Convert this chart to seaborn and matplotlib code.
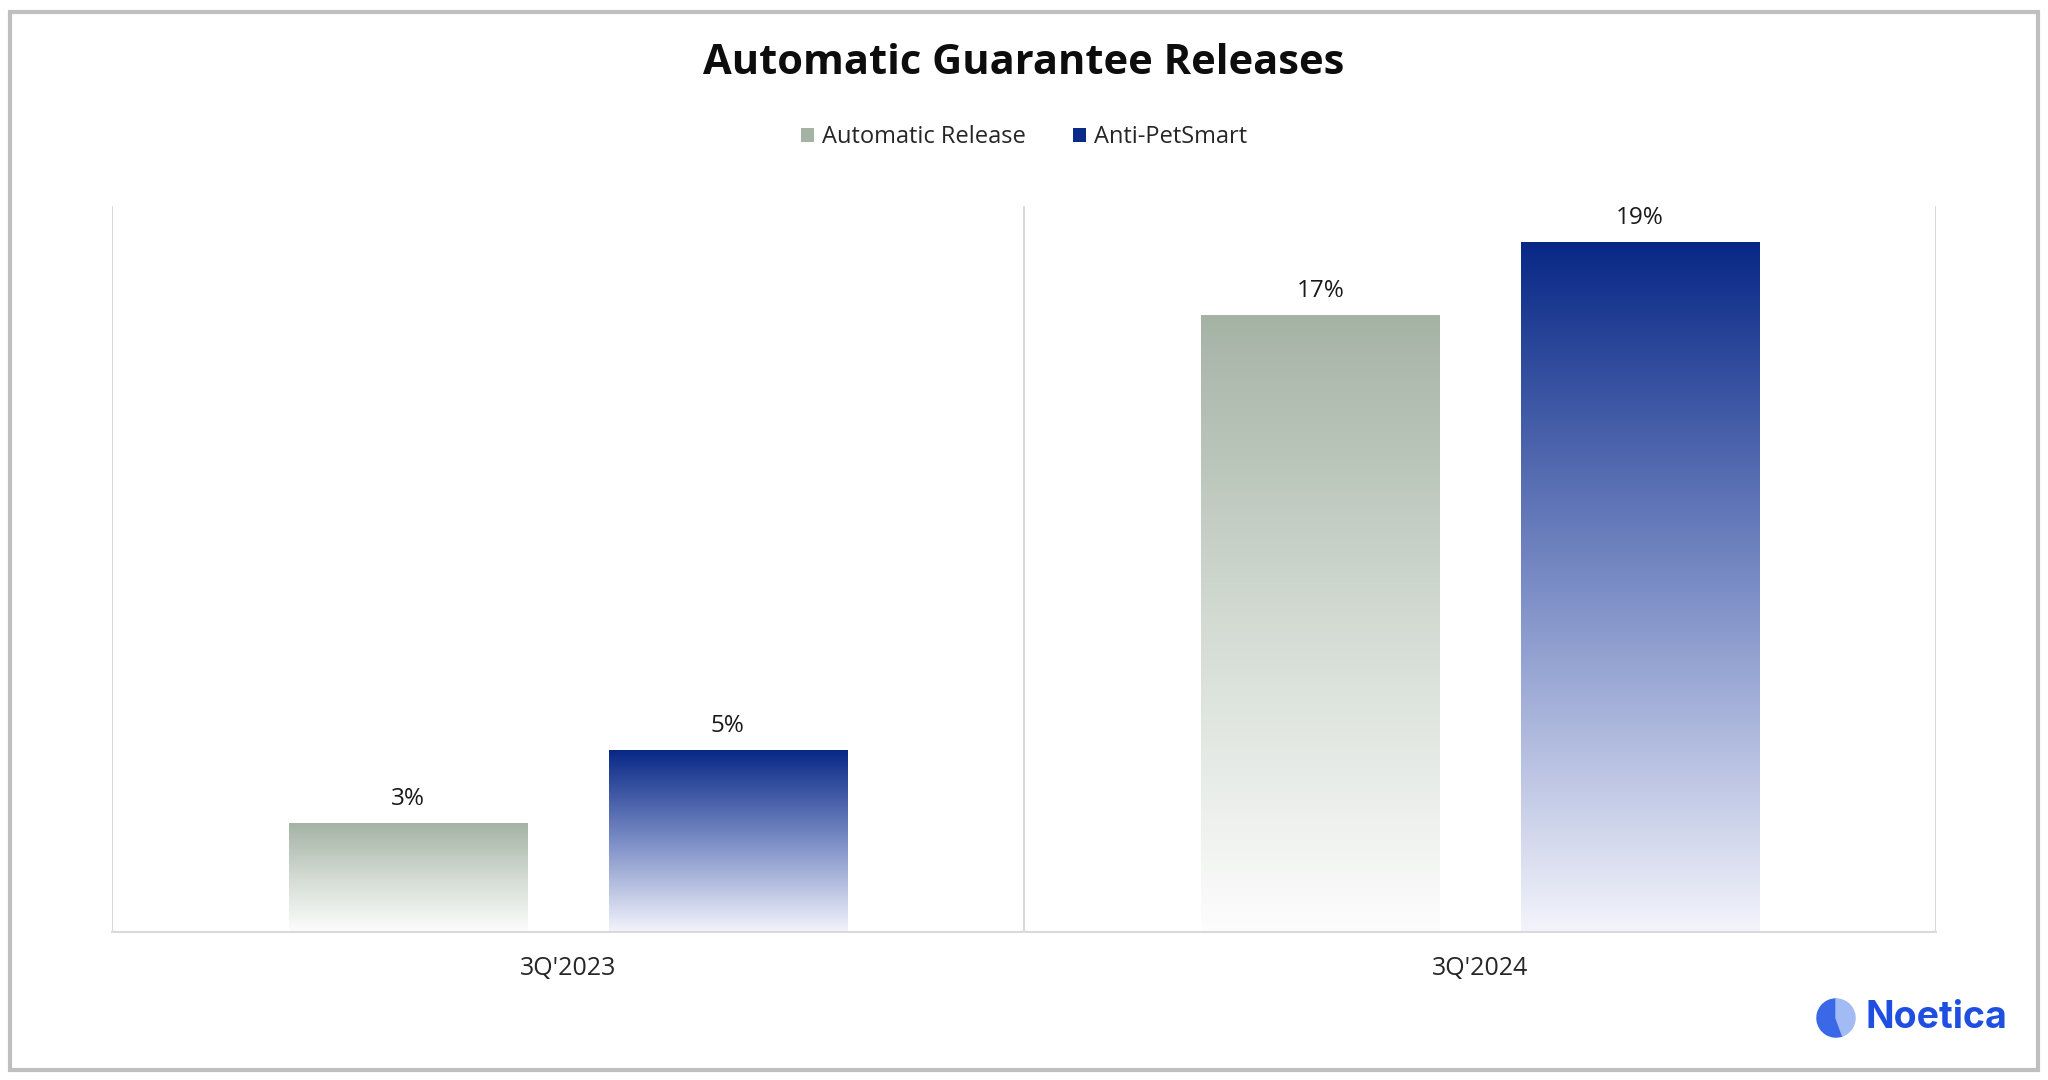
import numpy as np
import pandas as pd
import matplotlib.pyplot as plt
from matplotlib.colors import LinearSegmentedColormap
from matplotlib.patches import Rectangle, Wedge, Patch
import seaborn as sns

# Chart data
quarters = ["3Q'2023", "3Q'2024"]
series = ["Automatic Release", "Anti-PetSmart"]
auto_release = [3, 17]
anti_petsmart = [5, 19]

df = pd.DataFrame({
    "quarter": quarters * 2,
    "series": [series[0]] * 2 + [series[1]] * 2,
    "value": auto_release + anti_petsmart,
})

sns.set_style("white")
plt.rcParams["font.family"] = ["Open Sans", "DejaVu Sans"]

# gradient fills, bottom -> top
grey_cmap = LinearSegmentedColormap.from_list("grey", ["#fdfdfd", "#d3dbd3", "#a5b3a5"])
blue_cmap = LinearSegmentedColormap.from_list("blue", ["#f3f4fb", "#7b8dc6", "#082886"])
top_colors = {series[0]: "#a5b3a5", series[1]: "#0b2b88"}

fig = plt.figure(figsize=(20.48, 10.8), dpi=100)
ax = fig.add_axes([0.0547, 0.137, 0.8906, 0.672])

sns.barplot(data=df, x="quarter", y="value", hue="series", order=quarters,
            hue_order=series, palette=top_colors, width=0.70, gap=0.254,
            legend=False, ax=ax)

grad = np.linspace(0, 1, 256).reshape(-1, 1)
for cont, cmap in zip(ax.containers, [grey_cmap, blue_cmap]):
    for p in cont.patches:
        x0, w, h = p.get_x(), p.get_width(), p.get_height()
        ax.imshow(grad, cmap=cmap, origin="lower", aspect="auto",
                  extent=[x0, x0 + w, 0, h], zorder=2)
        p.set_facecolor("none")
        p.set_edgecolor("none")
    ax.bar_label(cont, labels=[f"{v:g}%" for v in cont.datavalues],
                 padding=9, fontsize=17.5, color="#1a1a1a")

ax.set_xlim(-0.5, 1.5)
ax.set_ylim(0, 20)
ax.set_xlabel("")
ax.set_ylabel("")
ax.set_yticks([])
ax.tick_params(axis="x", length=0, pad=17, labelsize=18, labelcolor="#262626")
for s in ["left", "right", "top"]:
    ax.spines[s].set_visible(False)
ax.spines["bottom"].set_color("#d9d9d9")
ax.spines["bottom"].set_linewidth(1.5)
for xv in [-0.5, 0.5, 1.5]:
    ax.axvline(xv, color="#d9d9d9", lw=1.5, zorder=1)

fig.text(0.5, 1 - 64 / 1080, "Automatic Guarantee Releases", ha="center",
         va="center", fontsize=30, fontweight="bold", color="#0d0d0d")

handles = [Patch(facecolor=top_colors[s], edgecolor="none") for s in series]
fig.legend(handles, series, loc="center", bbox_to_anchor=(0.5, 1 - 137 / 1080),
           ncol=2, frameon=False, fontsize=17, handlelength=0.55, handleheight=0.55,
           handletextpad=0.35, columnspacing=2.0)

# outer border
fig.patches.append(Rectangle((10 / 2048, 10 / 1080), 2028 / 2048, 1058 / 1080,
                             transform=fig.transFigure, fill=False,
                             edgecolor="#bfbfbf", lw=3))

# logo
lax = fig.add_axes([1816 / 2048, 1 - 1038 / 1080, 40 / 2048, 40 / 1080])
lax.set_aspect("equal")
lax.add_patch(Wedge((0, 0), 1, 90, 290, color="#3a68e6"))
lax.add_patch(Wedge((0, 0), 1, 290, 450, color="#a3bbf4"))
lax.set_xlim(-1.05, 1.05)
lax.set_ylim(-1.05, 1.05)
lax.axis("off")
fig.text(1866 / 2048, 1 - 1018 / 1080, "Noetica", ha="left", va="center",
         fontsize=27, fontweight="bold", color="#1f4fe0", family=["Inter", "DejaVu Sans"])

fig.savefig("out.png", dpi=100)
